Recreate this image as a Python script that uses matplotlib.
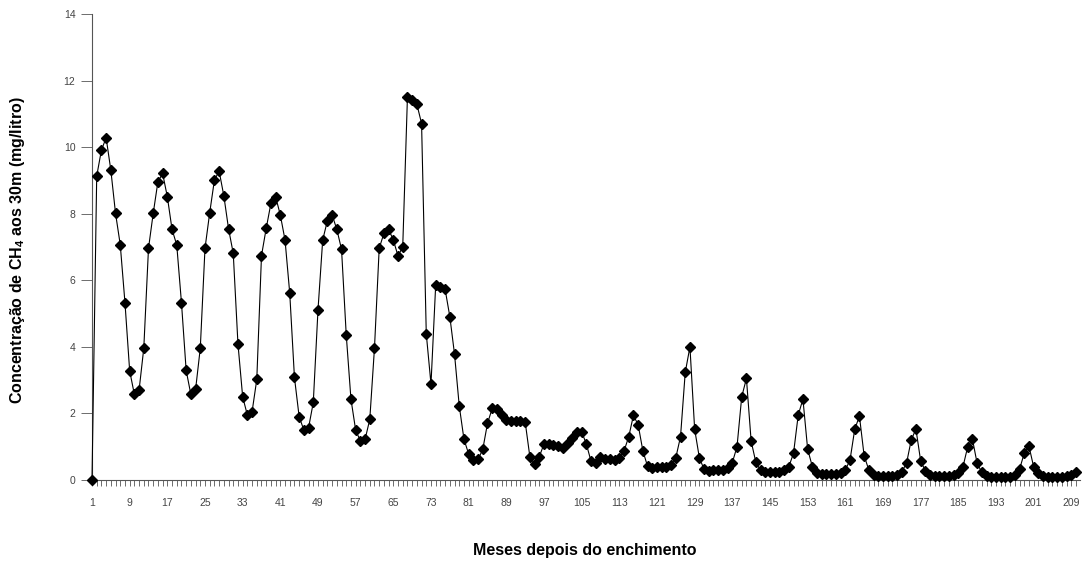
import numpy as np
import matplotlib
matplotlib.use("Agg")
import matplotlib.pyplot as plt
import matplotlib.ticker as ticker

# concentração de CH4 a 30 m, um valor por mês
meses = list(range(1, 211))
ch4 = [
    0.00, 9.13, 9.91, 10.28, 9.31, 8.01, 7.07, 5.33, 3.28, 2.57,
    2.70, 3.96, 6.96, 8.01, 8.96, 9.21, 8.51, 7.53, 7.06, 5.33,
    3.29, 2.57, 2.72, 3.96, 6.96, 8.03, 9.01, 9.28, 8.54, 7.55,
    6.81, 4.09, 2.50, 1.95, 2.05, 3.02, 6.74, 7.56, 8.31, 8.51,
    7.96, 7.21, 5.61, 3.08, 1.90, 1.50, 1.57, 2.33, 5.11, 7.21,
    7.79, 7.96, 7.53, 6.93, 4.36, 2.43, 1.50, 1.17, 1.22, 1.82,
    3.97, 6.96, 7.41, 7.53, 7.21, 6.73, 7.01, 11.51, 11.41, 11.29,
    10.71, 4.39, 2.88, 5.86, 5.79, 5.73, 4.91, 3.78, 2.23, 1.23,
    0.78, 0.60, 0.62, 0.92, 1.70, 2.15, 2.12, 1.95, 1.80, 1.78,
    1.78, 1.78, 1.75, 0.70, 0.48, 0.70, 1.08, 1.08, 1.06, 1.02,
    0.97, 1.10, 1.27, 1.45, 1.45, 1.08, 0.56, 0.50, 0.70, 0.63,
    0.62, 0.61, 0.66, 0.87, 1.30, 1.94, 1.66, 0.88, 0.41, 0.35,
    0.40, 0.40, 0.40, 0.46, 0.67, 1.30, 3.23, 4.00, 1.53, 0.67,
    0.32, 0.27, 0.30, 0.30, 0.30, 0.35, 0.52, 1.00, 2.50, 3.05,
    1.17, 0.53, 0.29, 0.25, 0.25, 0.25, 0.25, 0.30, 0.40, 0.80,
    1.95, 2.43, 0.93, 0.40, 0.20, 0.17, 0.17, 0.17, 0.17, 0.20,
    0.30, 0.60, 1.52, 1.92, 0.73, 0.30, 0.15, 0.13, 0.13, 0.13,
    0.13, 0.15, 0.25, 0.50, 1.20, 1.53, 0.58, 0.27, 0.15, 0.12,
    0.12, 0.12, 0.12, 0.15, 0.22, 0.40, 1.00, 1.23, 0.50, 0.23,
    0.13, 0.10, 0.10, 0.10, 0.10, 0.10, 0.15, 0.32, 0.80, 1.02,
    0.40, 0.20, 0.11, 0.09, 0.09, 0.10, 0.10, 0.12, 0.15, 0.25,
]
rotulos_x = list(range(1, 210, 8))
rotulos_y = list(range(0, 15, 2))

plt.rcParams['font.family'] = ['Liberation Sans', 'DejaVu Sans']
plt.rcParams['mathtext.fontset'] = 'custom'
plt.rcParams['mathtext.rm'] = 'Liberation Sans'
plt.rcParams['mathtext.bf'] = 'Liberation Sans:bold'

fig = plt.figure(figsize=(10.88, 5.69), dpi=100)
ax = fig.add_axes([92 / 1088, 89 / 569, 988 / 1088, 466 / 569])

ax.plot(meses, ch4, color='black', lw=0.8, marker='D', ms=4.8,
        mfc='black', mec='black', clip_on=False, zorder=3)

ax.set_xlim(1, 210.85)
ax.set_ylim(0, 14)

# eixo x: marca em cada mês, rótulo a cada 8
ax.xaxis.set_major_locator(ticker.FixedLocator(rotulos_x))
ax.xaxis.set_minor_locator(ticker.MultipleLocator(1))
ax.set_xticklabels([str(v) for v in rotulos_x])
ax.tick_params(axis='x', which='both', direction='out', length=4,
               width=0.6, color='#555555', labelsize=7.5,
               labelcolor='#444444', pad=9)
ax.set_yticks(rotulos_y)
ax.tick_params(axis='y', direction='out', length=8, width=0.6,
               color='#555555', labelsize=7.5, labelcolor='#444444', pad=4)

for s in ['top', 'right']:
    ax.spines[s].set_visible(False)
for s in ['left', 'bottom']:
    ax.spines[s].set_color('#555555')
    ax.spines[s].set_linewidth(0.8)

fig.text(18 / 1088, 1 - 250 / 569,
         r'Concentração de CH$_\mathbf{4}$ aos 30m (mg/litro)',
         rotation=90, ha='center', va='center', fontsize=11.5,
         fontweight='bold')
fig.text(585 / 1088, 1 - 551 / 569, 'Meses depois do enchimento',
         ha='center', va='center', fontsize=11.5, fontweight='bold')

fig.savefig('out.png', dpi=100, facecolor='white')
